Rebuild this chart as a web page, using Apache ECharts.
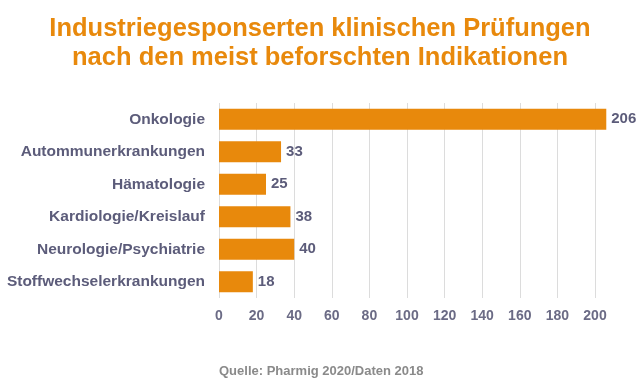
<!DOCTYPE html>
<html><head><meta charset="utf-8">
<script src="https://cdn.jsdelivr.net/npm/echarts@6/dist/echarts.min.js"></script>
<style>html,body{margin:0;padding:0;background:#fff}#c{width:640px;height:385px}</style>
</head><body><div id="c"></div>
<script>
var categories = ["Onkologie","Autommunerkrankungen","Hämatologie","Kardiologie/Kreislauf","Neurologie/Psychiatrie","Stoffwechselerkrankungen"];
var values = [206,33,25,38,40,18];
var titleLines = ["Industriegesponserten klinischen Prüfungen","nach den meist beforschten Indikationen"];
var sourceText = "Quelle: Pharmig 2020/Daten 2018";

var chart = echarts.init(document.getElementById('c'));
var font = '"Liberation Sans", Arial, sans-serif';
chart.setOption({
  animation:false,
  title:[{text:titleLines.join('\n'),left:'center',top:9,textStyle:{color:'#E8890C',fontFamily:font,fontWeight:'bold',fontSize:25.5,lineHeight:29}},
         {text:sourceText,left:214,top:360,textStyle:{color:'#8a8a8a',fontFamily:font,fontWeight:'bold',fontSize:13}}],
  grid:{left:219,right:45,top:103,bottom:87,containLabel:false},
  xAxis:{type:'value',min:0,max:200,interval:20,
    axisLine:{show:false},axisTick:{show:false},
    splitLine:{lineStyle:{color:'#dcdcdc'}},
    axisLabel:{color:'#6b6b85',fontFamily:font,fontWeight:'bold',fontSize:14,margin:11}},
  yAxis:{type:'category',data:categories,inverse:true,
    axisLine:{show:false},axisTick:{show:false},
    axisLabel:{color:'#5c5c7a',fontFamily:font,fontWeight:'bold',fontSize:15.5,margin:14}},
  series:[{type:'bar',data:values,barWidth:21,clip:false,
    itemStyle:{color:'#E8890C'},
    label:{show:true,position:'right',distance:5,color:'#5c5c7a',fontFamily:font,fontWeight:'bold',fontSize:15}}]
});
</script></body></html>
